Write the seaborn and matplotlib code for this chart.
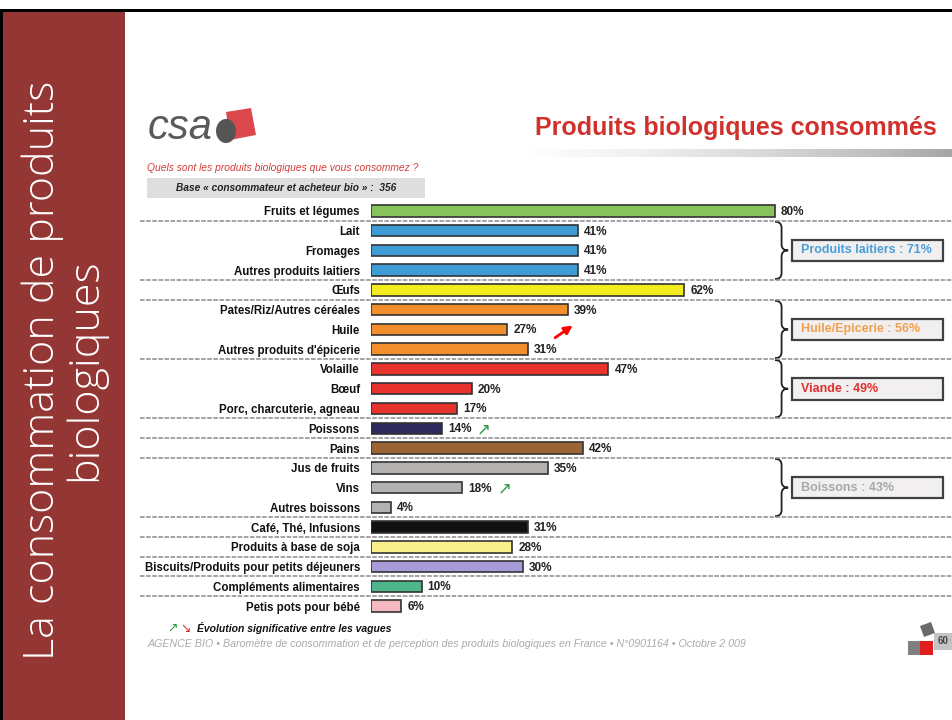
import numpy as np
import matplotlib
matplotlib.use("Agg")
import matplotlib.pyplot as plt
import matplotlib.transforms as mtransforms
from matplotlib.patches import Rectangle, Polygon, Ellipse, PathPatch
from matplotlib.path import Path
from matplotlib.lines import Line2D
import seaborn as sns

# data
categories = ["Fruits et légumes", "Lait", "Fromages", "Autres produits laitiers", "Œufs",
              "Pates/Riz/Autres céréales", "Huile", "Autres produits d'épicerie",
              "Volaille", "Bœuf", "Porc, charcuterie, agneau", "Poissons", "Pains",
              "Jus de fruits", "Vins", "Autres boissons", "Café, Thé, Infusions",
              "Produits à base de soja", "Biscuits/Produits pour petits déjeuners",
              "Compléments alimentaires", "Petis pots pour bébé"]
values = [80, 41, 41, 41, 62, 39, 27, 31, 47, 20, 17, 14, 42, 35, 18, 4, 31, 28, 30, 10, 6]
colors = ["#86c35a", "#3d9bd6", "#3d9bd6", "#3d9bd6", "#f2ec1e",
          "#f28f2c", "#f28f2c", "#f28f2c", "#e8322d", "#e8322d", "#e8322d",
          "#2e2a5c", "#9b6433", "#b4b1b1", "#b4b1b1", "#b4b1b1", "#111111",
          "#f8f08a", "#a99ad8", "#4fb58a", "#f6b8bf"]
rising = ["Poissons", "Vins"]
separators = [0, 3, 4, 7, 10, 11, 12, 15, 16, 17, 18, 19]
groups = [("Produits laitiers : 71%", 1, 3, "#4a9fd8"),
          ("Huile/Epicerie : 56%", 5, 7, "#f0a050"),
          ("Viande : 49%", 8, 10, "#e03030"),
          ("Boissons : 43%", 13, 15, "#a8a8a8")]

sns.set_style("white")
plt.rcParams["font.family"] = ["Liberation Sans", "DejaVu Sans"]

W, H = 952, 720
fig = plt.figure(figsize=(W / 100, H / 100), dpi=100)

# background decorations in pixel coordinates
bg = fig.add_axes([0, 0, 1, 1])
bg.set_xlim(0, W)
bg.set_ylim(H, 0)
bg.axis("off")
bg.add_patch(Rectangle((3, 12), 122, H - 12, color="#943634", lw=0))
bg.add_patch(Rectangle((0, 9), W, 3, color="black", lw=0))
bg.add_patch(Rectangle((0, 9), 3, H - 9, color="black", lw=0))
bg.text(64, 370, "La consommation de produits\nbiologiques", rotation=90,
        ha="center", va="center", color="white", fontsize=31,
        family=["Open Sans", "DejaVu Sans"], fontweight="light", linespacing=1.0)

# csa logo
bg.text(148, 128, "csa", fontsize=30, style="italic", color="#5a5a5a", va="center", ha="left")
bg.add_patch(Polygon([(226, 112), (251, 108), (256, 135), (230, 140)], color="#d8353a", lw=0, alpha=0.9))
bg.add_patch(Ellipse((226, 131), 20, 24, color="#555555", lw=0))

# title and shadow line
bg.text(535, 128, "Produits biologiques consommés", fontsize=18, fontweight="bold",
        color="#d0312d", va="center", ha="left")
grad = np.linspace(0.0, 0.45, 200).reshape(1, -1)
bg.imshow(grad, extent=(520, W, 157, 149), cmap="Greys", vmin=0, vmax=1, aspect="auto")
bg.set_xlim(0, W)
bg.set_ylim(H, 0)

bg.text(147, 168, "Quels sont les produits biologiques que vous consommez ?", fontsize=7.4,
        style="italic", color="#d23c3c", va="center")
bg.add_patch(Rectangle((147, 178), 278, 20, color="#dedede", lw=0))
bg.text(286, 188, "Base « consommateur et acheteur bio » :  356", fontsize=7.3,
        fontweight="bold", style="italic", color="#222222", ha="center", va="center")

# footer
bg.text(167, 628, "↗", fontsize=9, color="#2e9a3e", family="DejaVu Sans", va="center")
bg.text(180, 628, "↘", fontsize=9, color="#d0312d", family="DejaVu Sans", va="center")
bg.text(197, 628, "Évolution significative entre les vagues", fontsize=7.5, fontweight="bold",
        style="italic", color="#111111", va="center")
bg.text(148, 644, "AGENCE BIO • Baromètre de consommation et de perception des produits "
        "biologiques en France • N°0901164 • Octobre 2 009", fontsize=7.7, style="italic",
        color="#aaaaaa", va="center")
bg.add_patch(Polygon([(920, 626), (931, 622), (935, 633), (924, 637)], color="#6a6a6a", lw=0))
bg.add_patch(Rectangle((908, 641), 12, 14, color="#808080", lw=0))
bg.add_patch(Rectangle((920, 641), 13, 14, color="#e02020", lw=0))
bg.add_patch(Rectangle((934, 633), 18, 17, color="#c4c4c4", lw=0))
bg.text(943, 641, "60", fontsize=7, fontweight="bold", color="#444444", ha="center", va="center")

# main bar chart
ax = fig.add_axes([371 / W, (H - 616) / H, (W - 371) / W, 415 / H])
ax.patch.set_alpha(0)
sns.barplot(x=values, y=categories, hue=categories, palette=colors, legend=False,
            saturation=1, width=0.58, edgecolor="#333333", linewidth=1.2, orient="h", ax=ax)
ax.set_xlim(0, (W - 371) / 5.05)
ax.set_ylim(20.5, -0.5)
ax.set_xlabel("")
ax.set_ylabel("")
ax.set_xticks([])
sns.despine(ax=ax, left=True, bottom=True)
ax.tick_params(axis="y", length=0, pad=8)
for lab in ax.get_yticklabels():
    lab.set_fontsize(8.3)
    lab.set_fontweight("bold")
    lab.set_color("#111111")

for i, (cat, v) in enumerate(zip(categories, values)):
    ax.text(v + 1.2, i + 0.05, f"{v}%", va="center", ha="left", fontsize=8.5, fontweight="bold",
            color="#222222")
    if cat in rising:
        ax.text(v + 7.0, i + 0.05, "↗", va="center", ha="left", fontsize=12,
                family="DejaVu Sans", color="#2e9a3e")

# dashed separators across the slide
trans = mtransforms.blended_transform_factory(fig.transFigure, ax.transData)
for r in separators:
    ax.add_line(Line2D([140 / W, 1], [r + 0.5, r + 0.5], transform=trans, color="#8a8a8a",
                       lw=1.1, ls=(0, (3, 1)), clip_on=False))

# red arrow near Huile
ax.annotate("", xy=(40.4, 5.72), xytext=(36, 6.5),
            arrowprops=dict(arrowstyle="-|>", color="red", lw=2, mutation_scale=12))

# braces and group boxes
def brace(ax, top, bottom, x0=80.0, x1=81.3, x2=82.6, d=0.3):
    mid = (top + bottom) / 2
    verts = [(x0, top), (x1, top), (x1, top + d), (x1, mid - d), (x1, mid), (x2, mid),
             (x1, mid), (x1, mid + d), (x1, bottom - d), (x1, bottom), (x0, bottom)]
    codes = [Path.MOVETO, Path.CURVE3, Path.CURVE3, Path.LINETO, Path.CURVE3, Path.CURVE3,
             Path.CURVE3, Path.CURVE3, Path.LINETO, Path.CURVE3, Path.CURVE3]
    ax.add_patch(PathPatch(Path(verts, codes), fill=False, lw=1.3, color="#222222",
                           clip_on=False))

for label, first, last, col in groups:
    brace(ax, first - 0.45, last + 0.45)
    mid = (first + last) / 2
    ax.add_patch(Rectangle((83.4, mid - 0.55), 29.9, 1.1, facecolor="#f1efef",
                           edgecolor="#404040", lw=1.6, clip_on=False))
    ax.text(85.2, mid, label, va="center", ha="left", fontsize=9, fontweight="bold", color=col)

fig.savefig("out.png", dpi=100)
